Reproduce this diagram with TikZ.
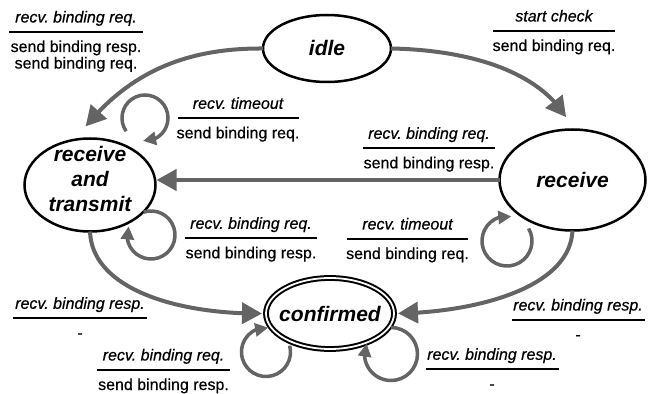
\documentclass[tikz,border=0pt]{standalone}
\usepackage{fontspec}
\setmainfont{Liberation Sans}[UprightFeatures={FakeBold=0.5},ItalicFeatures={FakeBold=0.5}]
\usetikzlibrary{shapes.geometric,arrows.meta,bending}
\definecolor{edgegray}{RGB}{100,100,100}
\frenchspacing
\tikzset{
  state/.style={ellipse, draw=black, line width=2.5pt, inner sep=0pt, outer sep=0pt,
    font=\fontsize{21}{25}\selectfont\bfseries\itshape},
  rulestyle/.style={line width=1.8pt, draw=black},
  toptext/.style={anchor=base, inner sep=0pt, font=\fontsize{16}{16.5}\selectfont\itshape\frenchspacing},
  bottext/.style={anchor=base, inner sep=0pt, font=\fontsize{16}{16.5}\selectfont\frenchspacing},
  trans/.style={draw=edgegray, line width=4pt, -{Triangle[length=20pt,width=21pt]}},
  selfloop/.style={draw=edgegray, line width=3.5pt, -{Triangle[length=13pt,width=13pt]}},
}
\newcommand\trlabel[6]{%
  \coordinate (#1) at (#2,#3);
  \draw[rulestyle] ([xshift=-#4/2]#1) -- ([xshift=#4/2]#1);
  \node[toptext] (#1-top) at ([yshift=9.5]#1) {#5};
  \node[bottext] (#1-bot) at ([yshift=-20]#1) {\begin{tabular}[t]{@{}c@{}}#6\end{tabular}};
}
\begin{document}
\begin{tikzpicture}[x=1pt,y=1pt]
\useasboundingbox (0,0) rectangle (654,394);
% states
\node[state, minimum width=128pt, minimum height=67pt] (idle) at (327,345.5) {\makebox[0pt]{idle}};
\node[state, minimum width=131pt, minimum height=93pt] (rt) at (90,209)
  {\vbox to 0pt{\vss\hbox{\begin{tabular}{@{}c@{}}receive\\and\\transmit\end{tabular}}\vss\kern6pt}};
\node[state, minimum width=146pt, minimum height=101pt] (rcv) at (572.5,214) {\makebox[0pt]{receive}};
\node[state, line width=2pt, double=white, double distance=1.8pt, minimum width=128pt, minimum height=71pt] (conf) at (330,80.5) {\makebox[0pt]{confirmed}};
% transitions
\draw[trans, shorten >=17pt] (idle.west) .. controls (180,346) and (122,318) .. (rt.108);
\draw[trans, shorten >=14pt] (idle.east) .. controls (470,344) and (548,322) .. (rcv.north);
\draw[trans, shorten >=1pt] (rcv.west) -- (rcv.west -| rt.east);
\draw[trans, shorten >=4pt] (rt.south) .. controls (92,104) and (180,79) .. (conf.west);
\draw[trans, shorten >=4pt] (rcv.south) .. controls (570,104) and (470,81) .. (conf.east);
% self loops
\coordinate (cA) at (145,276);
\coordinate (cB) at (151,159);
\coordinate (cC) at (507,153);
\coordinate (cD) at (266,42);
\coordinate (cE) at (391,40);
\draw[selfloop] ([shift={(215:23)}]cA) arc[start angle=215, end angle=-95, radius=23];
\draw[selfloop] ([shift={(108:24)}]cB) arc[start angle=108, end angle=-201, radius=24];
\draw[selfloop] ([shift={(30:25)}]cC) arc[start angle=30, end angle=-280, radius=25];
\draw[selfloop] ([shift={(15:24.5)}]cD) arc[start angle=15, end angle=-275, radius=24.5];
\draw[selfloop] ([shift={(90:26.5)}]cE) arc[start angle=90, end angle=-203, radius=26.5];
% labels
\trlabel{l1}{76}{362}{134}{recv. binding req.}{send binding resp.\\send binding req.}
\trlabel{l2}{554}{363}{122}{start check}{send binding req.}
\trlabel{l3}{238}{275.7}{121}{recv. timeout}{send binding req.}
\trlabel{l4}{429}{245.7}{132}{recv. binding req.}{send binding resp.}
\trlabel{l5}{251}{155.7}{132}{recv. binding req.}{send binding resp.}
\trlabel{l6}{407.5}{155}{121}{recv. timeout}{send binding req.}
\trlabel{l7}{80}{75.7}{134}{recv. binding resp.}{-}
\trlabel{l8}{578}{74}{133}{recv. binding resp.}{-}
\trlabel{l9}{163.5}{24}{133}{recv. binding req.}{send binding resp.}
\trlabel{l10}{492}{24.7}{133}{recv. binding resp.}{-}
\end{tikzpicture}
\end{document}
